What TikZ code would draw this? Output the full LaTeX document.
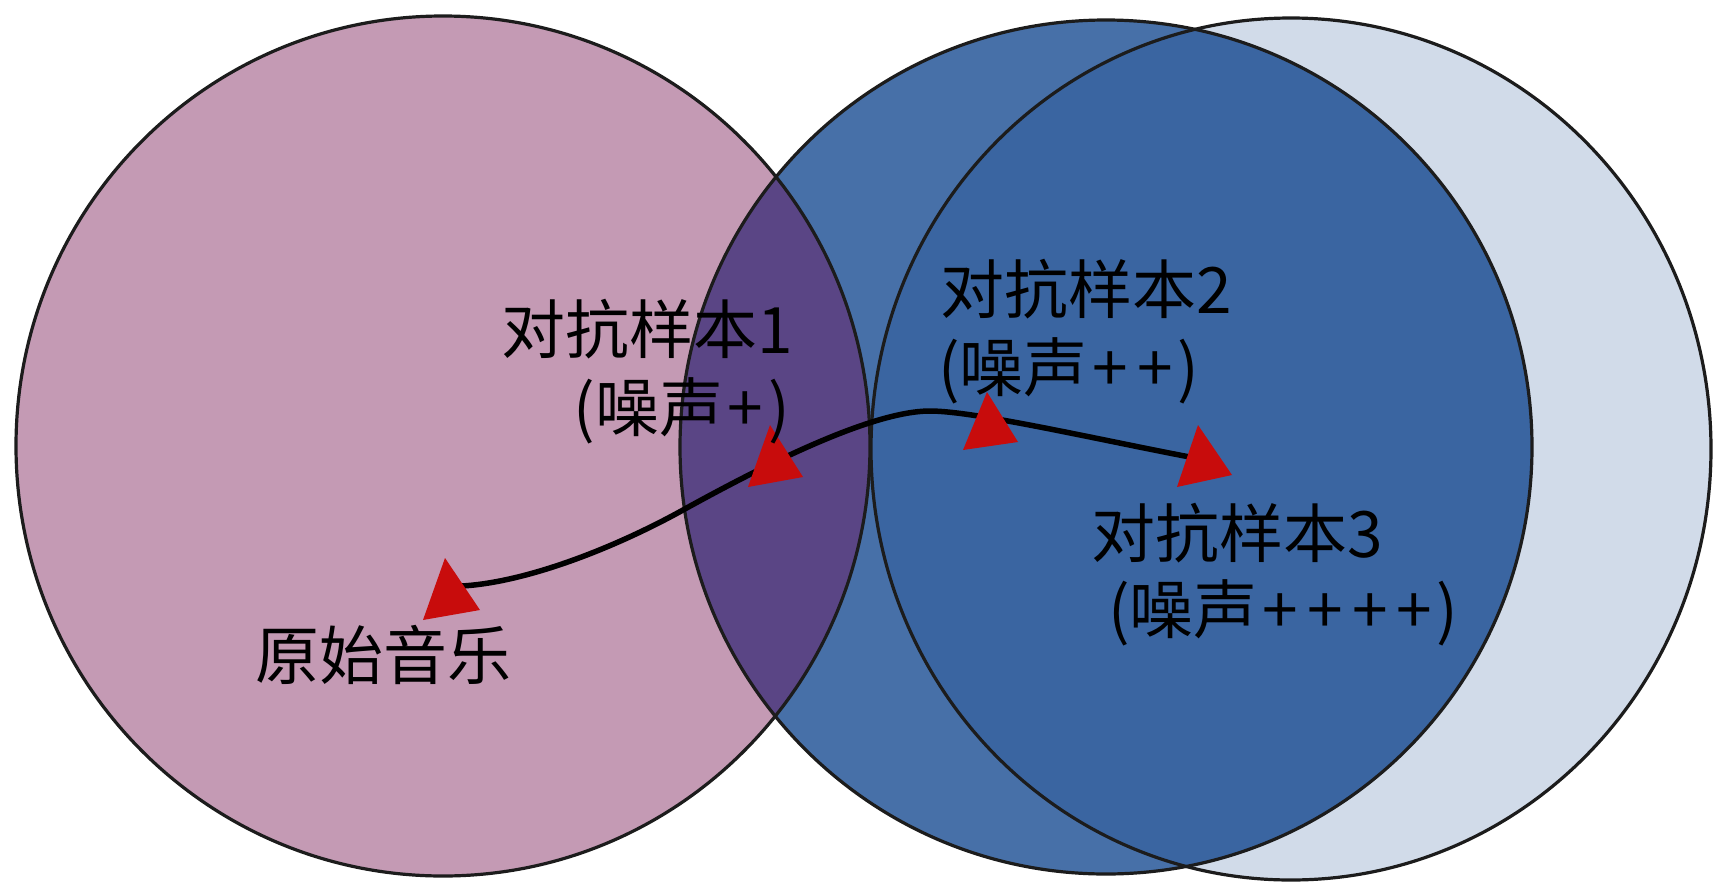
\documentclass[tikz,border=0pt]{standalone}
\usepackage{fontspec}
\newfontfamily\cjk{Noto Sans CJK SC}
\definecolor{pinkc}{HTML}{C49AB4}
\definecolor{purplec}{HTML}{5A4585}
\definecolor{midc}{HTML}{4770A8}
\definecolor{darkc}{HTML}{3A65A1}
\definecolor{lightc}{HTML}{D1DBE9}
\definecolor{edgec}{HTML}{1C1C1C}
\definecolor{arrowc}{HTML}{C80C0C}
\newcommand\myplus{\makebox[0.7em]{+}}
\begin{document}
\begin{tikzpicture}[x=1pt,y=-1pt,
  lbl/.style={font=\cjk\fontsize{64}{76}\selectfont, inner sep=0pt, text=black},
  outline/.style={draw=edgec, line width=3.2pt},
  pathline/.style={draw=black, line width=5.5pt},
  tri/.style={fill=arrowc}]
\useasboundingbox (0,0) rectangle (1714,884);
\fill[white] (0,0) rectangle (1714,884);
% circles
\fill[lightc] (1291,449) ellipse [x radius=420pt, y radius=431pt];
\fill[midc] (1106,447) ellipse [x radius=426pt, y radius=427pt];
\begin{scope}
  \clip (1291,449) ellipse [x radius=420pt, y radius=431pt];
  \fill[darkc] (1106,447) ellipse [x radius=426pt, y radius=427pt];
\end{scope}
\fill[pinkc] (443,446) ellipse [x radius=427pt, y radius=430pt];
\begin{scope}
  \clip (1106,447) ellipse [x radius=426pt, y radius=427pt];
  \fill[purplec] (443,446) ellipse [x radius=427pt, y radius=430pt];
\end{scope}
\draw[outline] (1291,449) ellipse [x radius=420pt, y radius=431pt];
\draw[outline] (1106,447) ellipse [x radius=426pt, y radius=427pt];
\draw[outline] (443,446) ellipse [x radius=427pt, y radius=430pt];
% path
\coordinate (p0) at (462,586);
\coordinate (p1) at (683,510);
\coordinate (p2) at (930,411);
\coordinate (p3) at (1195,458);
\draw[pathline] (p0) .. controls (530,582) and (620,545) .. (p1)
  .. controls (759,468) and (870,411) .. (p2)
  .. controls (975,411) and (1100,440) .. (p3);
% triangles
\coordinate (t1a) at (445,558); \coordinate (t1b) at (423,620); \coordinate (t1c) at (480,610);
\coordinate (t2a) at (770,425); \coordinate (t2b) at (748,487); \coordinate (t2c) at (803,477);
\coordinate (t3a) at (987,392); \coordinate (t3b) at (963,450); \coordinate (t3c) at (1018,442);
\coordinate (t4a) at (1198,425); \coordinate (t4b) at (1177,487); \coordinate (t4c) at (1232,475);
\fill[tri] (t1a) -- (t1b) -- (t1c) -- cycle;
\fill[tri] (t2a) -- (t2b) -- (t2c) -- cycle;
\fill[tri] (t3a) -- (t3b) -- (t3c) -- cycle;
\fill[tri] (t4a) -- (t4b) -- (t4c) -- cycle;
% labels
\node[lbl, anchor=base east] (s1a) at (793,353) {对抗样本1};
\node[lbl, anchor=base east] (s1b) at (790,431) {(噪声\myplus)};
\node[lbl, anchor=base west] (s2a) at (940,313) {对抗样本2};
\node[lbl, anchor=base west] (s2b) at (938,391) {(噪声\myplus\myplus)};
\node[lbl, anchor=base west] (s3a) at (1091,557) {对抗样本3};
\node[lbl, anchor=base west] (s3b) at (1108,633) {(噪声\myplus\myplus\myplus\myplus)};
\node[lbl, anchor=base west] (orig) at (255,679) {原始音乐};
\end{tikzpicture}
\end{document}
